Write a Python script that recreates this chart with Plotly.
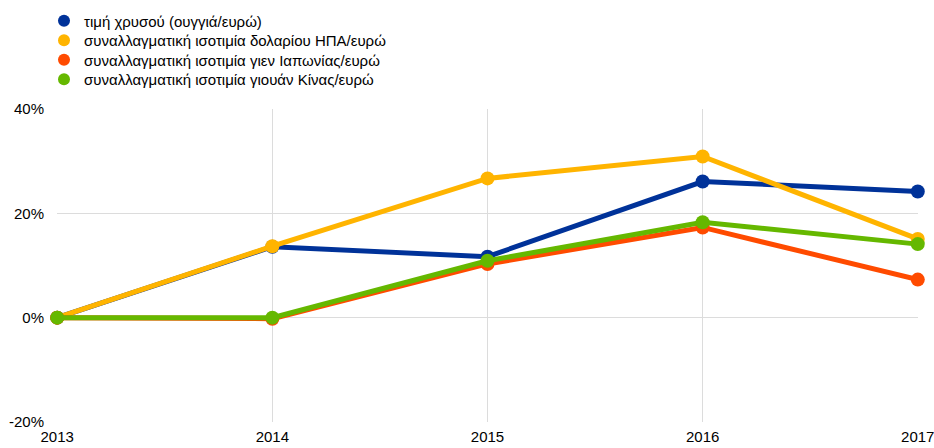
import plotly.graph_objects as go

years = [2013, 2014, 2015, 2016, 2017]
gold = [0.0, 13.6, 11.7, 26.1, 24.2]
usd = [0.0, 13.7, 26.7, 30.9, 15.1]
jpy = [0.0, -0.2, 10.3, 17.3, 7.3]
cny = [0.0, 0.0, 10.9, 18.3, 14.1]

names = [
    "τιμή χρυσού (ουγγιά/ευρώ)",
    "συναλλαγματική ισοτιμία δολαρίου ΗΠΑ/ευρώ",
    "συναλλαγματική ισοτιμία γιεν Ιαπωνίας/ευρώ",
    "συναλλαγματική ισοτιμία γιουάν Κίνας/ευρώ",
]
colors = ["#003299", "#FFB400", "#FF4B00", "#65B800"]
series = [gold, usd, jpy, cny]
legend_ids = ["legend", "legend2", "legend3", "legend4"]
legend_rows = [20.5, 40.0, 59.5, 79.0]

fig = go.Figure()
for name, col, vals in zip(names, colors, series):
    fig.add_trace(go.Scatter(
        x=years, y=vals, mode="lines+markers", name=name,
        line=dict(color=col, width=5), marker=dict(color=col, size=14),
        showlegend=False, hoverinfo="skip", cliponaxis=False))
for name, col, lid in zip(names, colors, legend_ids):
    fig.add_trace(go.Scatter(
        x=[None], y=[None], mode="markers", name=name, legend=lid,
        marker=dict(color=col, size=13), showlegend=True))

W, H = 934, 448
legend_layout = {}
for lid, yc in zip(legend_ids, legend_rows):
    legend_layout[lid] = dict(
        xref="container", yref="container", x=44 / W, y=1 - (yc - 16) / H,
        xanchor="left", yanchor="top", font=dict(size=15),
        itemsizing="constant", bgcolor="rgba(0,0,0,0)")

fig.update_layout(
    width=W, height=H,
    margin=dict(l=57, r=16, t=109, b=26, autoexpand=False),
    paper_bgcolor="white", plot_bgcolor="white",
    font=dict(family="Liberation Sans, Arial, sans-serif", color="#000000", size=15),
    xaxis=dict(range=[2012.999, 2017.001], tickvals=years, ticktext=[str(y) for y in years],
               showgrid=True, gridcolor="#dcdcdc", gridwidth=1, zeroline=False,
               showline=False, tickfont=dict(size=15), fixedrange=True,
               ticklabelstandoff=4, ticklabeloverflow="allow"),
    yaxis=dict(range=[-20.01, 40.01], tickvals=[-20, 0, 20, 40],
               ticktext=["-20%", "0%", "20%", "40%"],
               showgrid=True, gridcolor="#dcdcdc", gridwidth=1, zeroline=False,
               showline=False, tickfont=dict(size=15), fixedrange=True,
               ticklabelstandoff=12, ticklabeloverflow="allow"),
    **legend_layout,
)
fig.write_html("out.html", config={"displayModeBar": False},
               post_script="document.body.style.margin='0';document.body.style.overflow='hidden';")
